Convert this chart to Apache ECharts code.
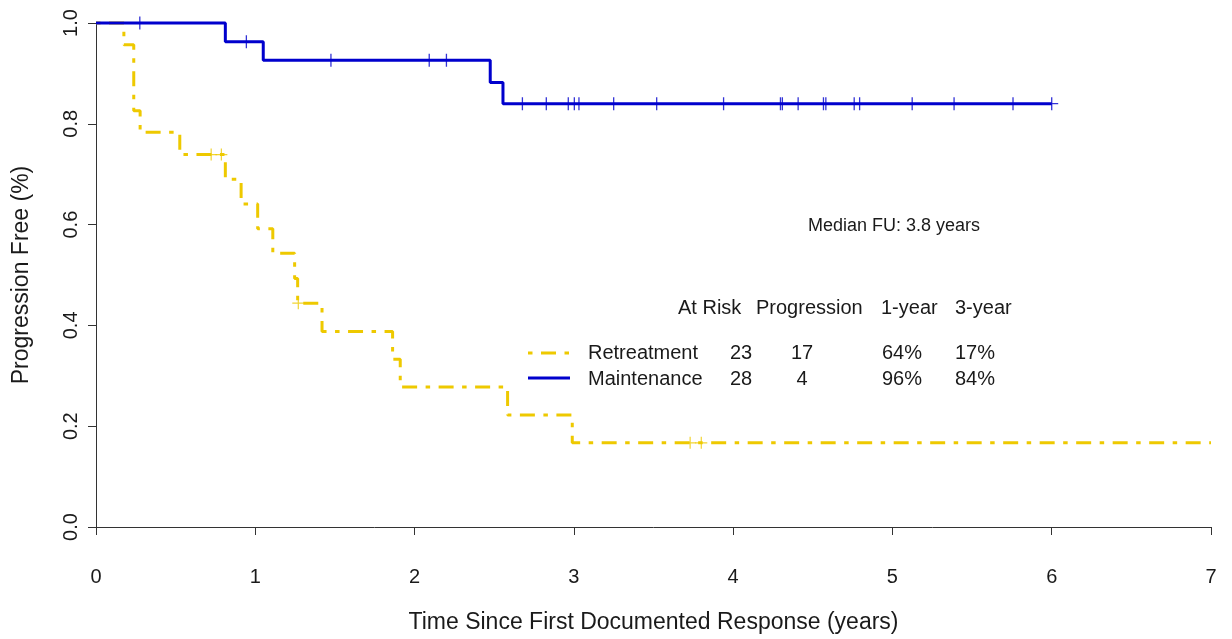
<!DOCTYPE html>
<html>
<head>
<meta charset="utf-8">
<script src="https://cdn.jsdelivr.net/npm/echarts@6/dist/echarts.min.js"></script>
<style>
html,body{margin:0;padding:0;background:#fff;}
#chart{width:1232px;height:639px;}
</style>
</head>
<body>
<div id="chart"></div>
<script>
// ---- Data ----
const xTicks = [0, 1, 2, 3, 4, 5, 6, 7];
const yTicks = [0, 0.2, 0.4, 0.6, 0.8, 1.0];

// Retreatment: step points (time, progression-free proportion)
const retreatTimes = [0, 0.175, 0.237, 0.277, 0.526, 0.812, 0.911, 1.015, 1.11, 1.247, 1.266, 1.419, 1.862, 1.91, 2.584, 2.99, 7.0];
const retreatSurv  = [1.0, 0.957, 0.826, 0.783, 0.739, 0.690, 0.641, 0.592, 0.543, 0.493, 0.444, 0.388, 0.333, 0.278, 0.222, 0.167, 0.167];
const retreatCensorTimes = [0.723, 0.787, 1.27, 3.73, 3.80];
const retreatCensorSurv  = [0.739, 0.739, 0.444, 0.167, 0.167];

// Maintenance
const maintTimes = [0, 0.812, 1.05, 2.475, 2.555, 6.0];
const maintSurv  = [1.0, 0.963, 0.926, 0.882, 0.840, 0.840];
const maintCensorTimes = [0.275, 0.944, 1.475, 2.092, 2.2, 2.677, 2.827, 2.965, 3.003, 3.032, 3.25, 3.52, 3.94, 4.297, 4.309, 4.408, 4.567, 4.582, 4.76, 4.794, 5.124, 5.387, 5.757, 6.0];
const maintCensorSurv  = [1.0, 0.963, 0.926, 0.926, 0.926, 0.84, 0.84, 0.84, 0.84, 0.84, 0.84, 0.84, 0.84, 0.84, 0.84, 0.84, 0.84, 0.84, 0.84, 0.84, 0.84, 0.84, 0.84, 0.84];

// Annotation table
const tableHeader = ['At Risk', 'Progression', '1-year', '3-year'];
const groupNames = ['Retreatment', 'Maintenance'];
const atRisk = ['23', '28'];
const progressions = ['17', '4'];
const oneYear = ['64%', '96%'];
const threeYear = ['17%', '84%'];
const medianText = 'Median FU: 3.8 years';

// ---- Styling ----
const GOLD = '#EEC900';
const BLUE = '#0000CD';
const AXIS = '#333333';
const TEXT = '#1a1a1a';
const FONT = '"Liberation Sans", Arial, sans-serif';
const DASH = [4.5, 8.5, 15, 8.5];
const PLUS = 'path://M0,-6L0,6M-6,0L6,0';

const zip = (a, b) => a.map((v, i) => [v, b[i]]);

const chart = echarts.init(document.getElementById('chart'), null, {renderer: 'canvas'});

const txt = (text, x, y, size, align) => ({
  type: 'text', x: x, y: y, silent: true,
  style: {text: text, fill: TEXT, fontSize: size, fontFamily: FONT, textAlign: align || 'left', textVerticalAlign: 'middle'}
});

const colX = [678, 756, 881, 955];
const rowY = [353, 379];
const graphics = [];
graphics.push(txt(medianText, 808, 226, 18));
tableHeader.forEach((h, i) => graphics.push(txt(h, colX[i], 308, 20)));
groupNames.forEach((g, r) => {
  graphics.push(txt(g, 588, rowY[r], 20));
  graphics.push(txt(atRisk[r], 741, rowY[r], 20, 'center'));
  graphics.push(txt(progressions[r], 802, rowY[r], 20, 'center'));
  graphics.push(txt(oneYear[r], 882, rowY[r], 20));
  graphics.push(txt(threeYear[r], 955, rowY[r], 20));
});
graphics.push({type: 'line', silent: true, shape: {x1: 528, y1: 353, x2: 570, y2: 353},
  style: {stroke: GOLD, lineWidth: 3, lineDash: DASH}});
graphics.push({type: 'line', silent: true, shape: {x1: 528, y1: 378, x2: 570, y2: 378},
  style: {stroke: BLUE, lineWidth: 3}});

chart.setOption({
  backgroundColor: '#ffffff',
  animation: false,
  grid: {left: 96, right: 21, top: 23, bottom: 111, containLabel: false},
  xAxis: {
    type: 'value', min: 0, max: 7, interval: 1, offset: 20,
    name: 'Time Since First Documented Response (years)',
    nameLocation: 'middle', nameGap: 64,
    nameTextStyle: {fontSize: 23, fontFamily: FONT, color: TEXT},
    axisLine: {show: true, lineStyle: {color: AXIS, width: 1}},
    axisTick: {show: true, inside: false, length: 8, lineStyle: {color: AXIS}},
    axisLabel: {show: true, margin: 20, fontSize: 20, fontFamily: FONT, color: TEXT,
      customValues: xTicks},
    splitLine: {show: false}
  },
  yAxis: {
    type: 'value', min: 0, max: 1, interval: 0.2,
    name: 'Progression Free (%)',
    nameLocation: 'middle', nameGap: 63, nameRotate: 90,
    nameTextStyle: {fontSize: 23, fontFamily: FONT, color: TEXT},
    axisLine: {show: true, lineStyle: {color: AXIS, width: 1}},
    axisTick: {show: true, inside: false, length: 8, lineStyle: {color: AXIS}},
    axisLabel: {show: true, rotate: 90, margin: 15, fontSize: 20, fontFamily: FONT, color: TEXT,
      customValues: yTicks,
      formatter: v => v.toFixed(1)},
    splitLine: {show: false}
  },
  graphic: graphics,
  series: [
    {
      name: 'Retreatment', type: 'line', step: 'end', clip: false, z: 2,
      data: zip(retreatTimes, retreatSurv), showSymbol: false, symbol: 'none',
      lineStyle: {color: GOLD, width: 3, type: DASH, cap: 'butt'}
    },
    {
      name: 'Retreatment censored', type: 'scatter', z: 3,
      data: zip(retreatCensorTimes, retreatCensorSurv),
      symbol: PLUS, symbolSize: 12,
      itemStyle: {color: 'none', borderColor: GOLD, borderWidth: 1.2}
    },
    {
      name: 'Maintenance', type: 'line', step: 'end', clip: false, z: 4,
      data: zip(maintTimes, maintSurv), showSymbol: false, symbol: 'none',
      lineStyle: {color: BLUE, width: 3}
    },
    {
      name: 'Maintenance censored', type: 'scatter', z: 5,
      data: zip(maintCensorTimes, maintCensorSurv),
      symbol: PLUS, symbolSize: 13,
      itemStyle: {color: 'none', borderColor: BLUE, borderWidth: 1.3}
    }
  ]
});
</script>
</body>
</html>
